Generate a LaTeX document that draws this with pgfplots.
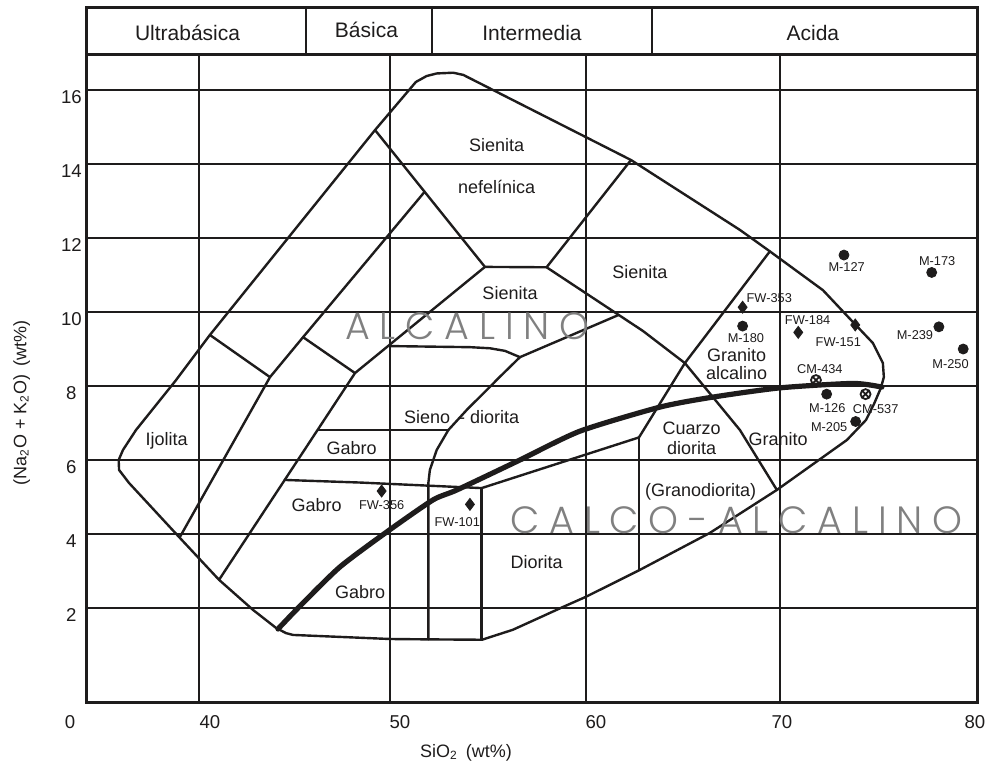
\documentclass[border=0pt]{standalone}
\usepackage{pgfplots}
\pgfplotsset{compat=1.18}
\usepackage{fontspec}
\setmainfont{Liberation Sans}
\newfontfamily\thinfont{Poppins Light}
\definecolor{ink}{RGB}{30,28,28}
\definecolor{wm}{RGB}{128,128,128}
\newcommand\rfont{\fontsize{9}{9.6}\selectfont}
\newcommand\sfontx{\fontsize{6.4}{7}\selectfont}
\newcommand\gl{\kern4.9pt}
\tikzset{
 gridl/.style={line width=1pt, draw=ink},
 bnd/.style={line width=1.2pt, draw=ink, line join=round, line cap=round},
 rl/.style={font=\rfont, text=ink, inner sep=0pt},
 sl/.style={font=\sfontx, text=ink, inner sep=0pt},
}
\begin{document}
\begin{tikzpicture}
\begin{axis}[
 scale only axis, width=445.5pt, height=347.5pt,
 xmin=34.27, xmax=80.08, ymin=-0.57, ymax=18.22,
 clip=false,
 axis line style={line width=1.5pt, draw=ink},
 xtick={40.64,50.41,60.49,70.05,79.97},
 xticklabels={40,50,60,70,80},
 ytick={2,4,6,8,10,12,14,16},
 major tick length=0pt, tick style={draw=none},
 /pgf/number format/assume math mode=true,
 ticklabel style={font=\fontsize{9.3}{10}\selectfont, text=ink, anchor=center},
 xticklabel style={yshift=-9.5pt},
 yticklabel style={xshift=-7.3pt, yshift=-3.5pt},
]
% horizontal grid
\addplot[gridl] coordinates {(34.27,2)(80.08,2)};
\addplot[gridl] coordinates {(34.27,4)(80.08,4)};
\addplot[gridl] coordinates {(34.27,6)(80.08,6)};
\addplot[gridl] coordinates {(34.27,8)(80.08,8)};
\addplot[gridl] coordinates {(34.27,10)(80.08,10)};
\addplot[gridl] coordinates {(34.27,12)(80.08,12)};
\addplot[gridl] coordinates {(34.27,14)(80.08,14)};
\addplot[gridl] coordinates {(34.27,16)(80.08,16)};
% vertical grid
\addplot[gridl] coordinates {(40.1,-0.57)(40.1,16.97)};
\addplot[gridl] coordinates {(49.9,-0.57)(49.9,16.97)};
\addplot[gridl] coordinates {(60.0,-0.57)(60.0,16.97)};
\addplot[gridl] coordinates {(69.95,-0.57)(69.95,16.97)};
% header band
\addplot[gridl, line width=1.3pt] coordinates {(34.27,16.97)(80.08,16.97)};
\addplot[gridl] coordinates {(45.58,16.97)(45.58,18.22)};
\addplot[gridl] coordinates {(52.06,16.97)(52.06,18.22)};
\addplot[gridl] coordinates {(63.37,16.97)(63.37,18.22)};

% outer boundary
\addplot[bnd] coordinates {(51.23,16.22)(51.78,16.38)(52.30,16.45)(53.15,16.47)(53.67,16.41)(62.29,14.11)(67.89,12.22)(69.43,11.64)(72.16,10.59)(73.70,9.73)(74.73,9.16)(75.24,8.62)(75.29,8.24)(75.14,7.95)(74.78,7.51)(74.37,7.08)(73.39,6.54)(69.79,5.19)(66.35,4.03)(62.75,3.03)(59.97,2.30)(58.81,2.03)(56.22,1.41)(54.63,1.14)(51.85,1.15)(49.90,1.16)(44.91,1.27)(44.55,1.32)(44.04,1.46)(42.85,1.95)(41.11,2.76)(39.05,3.92)(36.48,5.38)(35.97,5.73)(35.95,6.00)(36.17,6.27)(36.84,6.81)(38.90,8.16)(40.64,9.38)(49.13,14.92)(51.23,16.22)};
% internal boundaries
\addplot[bnd] coordinates {(39.10,3.92)(43.73,8.24)(45.43,9.32)(51.68,13.25)};
\addplot[bnd] coordinates {(40.64,9.38)(43.73,8.24)};
\addplot[bnd] coordinates {(45.43,9.32)(48.10,8.35)};
\addplot[bnd] coordinates {(54.78,11.22)(48.10,8.35)(41.11,2.76)};
\addplot[bnd] coordinates {(49.13,14.92)(54.78,11.22)(57.95,11.21)(62.29,14.11)};
\addplot[bnd] coordinates {(57.95,11.21)(62.90,9.49)(65.06,8.62)(66.50,7.70)(67.89,6.81)(69.79,5.19)};
\addplot[bnd] coordinates {(56.58,8.78)(61.65,9.92)};
\addplot[bnd] coordinates {(49.85,9.08)(54.01,9.05)(55.04,9.02)(55.81,8.95)(56.58,8.78)(55.55,8.25)(55.21,8.07)(53.84,7.35)(52.90,6.81)(52.30,6.27)(51.95,5.73)(51.87,5.37)(51.87,1.15)};
\addplot[bnd] coordinates {(46.2,6.81)(52.90,6.81)};
\addplot[bnd] coordinates {(44.49,5.46)(48.36,5.39)(54.61,5.24)(62.7,6.61)};
\addplot[bnd] coordinates {(54.61,5.24)(54.61,1.14)};
\addplot[bnd] coordinates {(62.7,6.61)(62.7,3.03)};
\addplot[bnd] coordinates {(69.43,11.64)(66.35,9.51)(65.06,8.62)(62.7,6.61)};
% alkaline / sub-alkaline divide
\addplot[line width=2.6pt, draw=ink, smooth, tension=0.4, line cap=round] coordinates {(44.14,1.43)(45.27,2.05)(47.33,3.11)(49.80,4.08)(52.11,4.92)(53.34,5.19)(56.58,6.00)(59.67,6.78)(63.78,7.43)(66.50,7.70)(69.95,7.95)(73.70,8.07)(75.19,7.97)};

% samples
\addplot[only marks, mark=*, mark size=2.5pt, color=ink] coordinates {(73.24,11.54)(77.75,11.07)(68.03,9.62)(78.12,9.60)(79.37,9.00)(72.35,7.78)(73.84,7.04)};
\addplot[only marks, mark=diamond*, mark size=3pt, color=ink] coordinates {(68.03,10.13)(70.89,9.45)(73.82,9.65)(49.47,5.16)(54.01,4.80)};
\addplot[only marks, mark=otimes, mark size=2.5pt, color=ink, line width=0.9pt] coordinates {(71.80,8.16)(74.35,7.78)};

\node[sl] at (axis cs:73.38,11.21) {M-127};
\node[sl] at (axis cs:78.03,11.38) {M-173};
\node[sl] at (axis cs:69.40,10.37) {FW-353};
\node[sl] at (axis cs:68.20,9.29) {M-180};
\node[sl] at (axis cs:71.37,9.78) {FW-184};
\node[sl] at (axis cs:72.95,9.18) {FW-151};
\node[sl] at (axis cs:76.89,9.38) {M-239};
\node[sl] at (axis cs:78.72,8.59) {M-250};
\node[sl] at (axis cs:72.00,8.46) {CM-434};
\node[sl] at (axis cs:72.38,7.41) {M-126};
\node[sl] at (axis cs:74.87,7.38) {CM-537};
\node[sl] at (axis cs:72.48,6.88) {M-205};
\node[sl] at (axis cs:49.47,4.77) {FW-356};
\node[sl] at (axis cs:53.36,4.31) {FW-101};

% header labels
\node[font=\fontsize{10.5}{11}\selectfont, text=ink] at (axis cs:39.49,17.54) {Ultrabásica};
\node[font=\fontsize{10.5}{11}\selectfont, text=ink] at (axis cs:48.69,17.62) {Básica};
\node[font=\fontsize{10.5}{11}\selectfont, text=ink] at (axis cs:57.20,17.54) {Intermedia};
\node[font=\fontsize{10.5}{11}\selectfont, text=ink] at (axis cs:71.64,17.54) {Acida};

% region labels
\node[rl] at (axis cs:55.38,14.51) {Sienita};
\node[rl] at (axis cs:55.38,13.39) {nefelínica};
\node[rl] at (axis cs:62.75,11.09) {Sienita};
\node[rl] at (axis cs:56.07,10.51) {Sienita};
\node[rl] at (axis cs:38.42,6.52) {Ijolita};
\node[rl] at (axis cs:47.93,6.32) {Gabro};
\node[rl] at (axis cs:46.13,4.78) {Gabro};
\node[rl] at (axis cs:48.36,2.44) {Gabro};
\node[rl] at (axis cs:53.58,7.17) {Sieno\hspace{4.5pt}- diorita};
\node[rl] at (axis cs:57.44,3.25) {Diorita};
\node[rl] at (axis cs:65.87,5.14) {(Granodiorita)};
\node[rl, align=center, font={\fontsize{9}{10}\selectfont}] at (axis cs:65.41,6.59) {Cuarzo\\diorita};
\node[rl] at (axis cs:69.86,6.56) {Granito};
\node[rl, align=center, font={\fontsize{9}{9.3}\selectfont}] at (axis cs:67.72,8.59) {Granito\\alcalino};

% series names
\node[anchor=base west, inner sep=0pt, text=wm, font={\thinfont\fontsize{19}{20}\selectfont}] at (axis cs:47.58,9.27) {A\gl L\gl C\gl A\gl L\gl I\gl N\gl O};
\node[anchor=base west, inner sep=0pt, text=wm, font={\thinfont\fontsize{19}{20}\selectfont}] at (axis cs:56.07,4.02) {C\gl A\gl L\gl C\gl O\gl -\gl A\gl L\gl C\gl A\gl L\gl I\gl N\gl O};

% axis labels
\node[font=\fontsize{9.3}{10}\selectfont, text=ink, yshift=-9.5pt] at (axis cs:33.45,-0.57) {0};
\node[font=\fontsize{9}{10}\selectfont, text=ink] at (rel axis cs:0.4265,-0.0719) {SiO\textsubscript{2}\hspace{4pt}(wt\%)};
\node[font=\fontsize{9}{10}\selectfont, text=ink, rotate=90] at (rel axis cs:-0.0722,0.4317) {(Na\textsubscript{2}O + K\textsubscript{2}O)\hspace{4pt}(wt\%)};

\coordinate (bbbl) at (rel axis cs:-0.09652,-0.09065);
\coordinate (bbtr) at (rel axis cs:1.01122,1.01151);
\end{axis}
\pgfresetboundingbox
\path[use as bounding box] (bbbl) rectangle (bbtr);
\end{tikzpicture}
\end{document}
